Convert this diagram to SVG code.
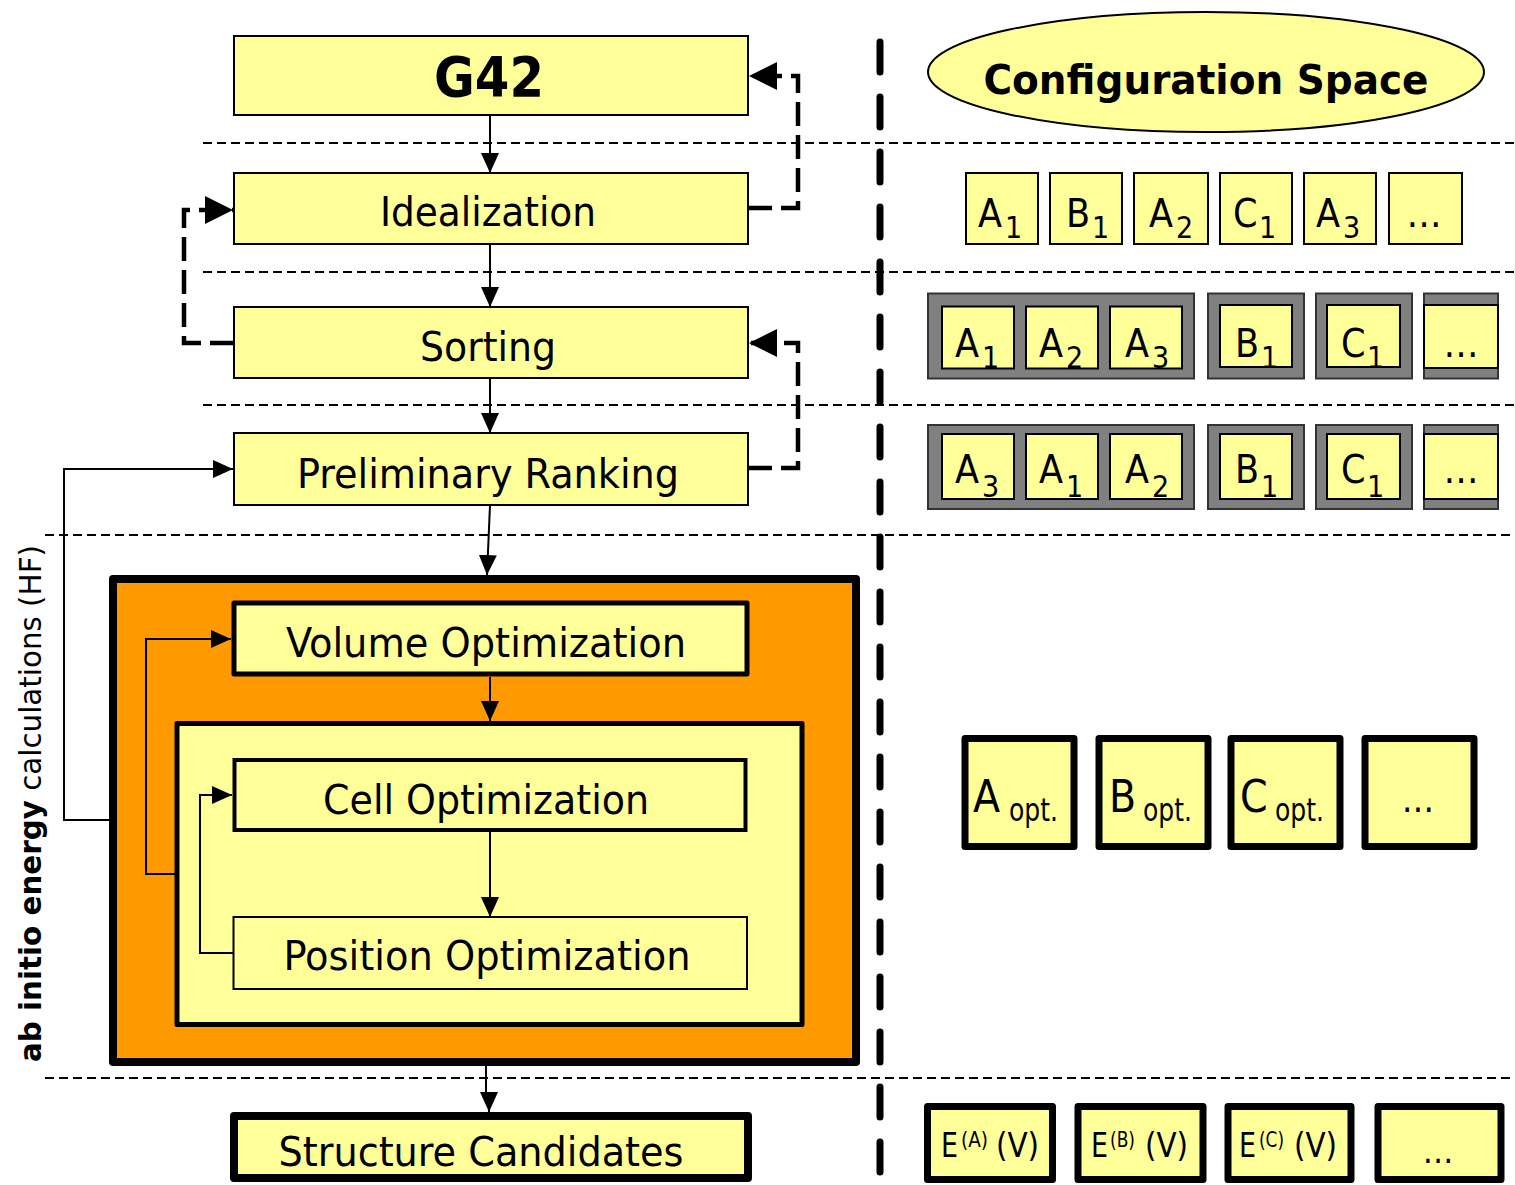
<svg xmlns="http://www.w3.org/2000/svg" width="1515" height="1185" viewBox="0 0 1515 1185">
  <style>
    .t{font-family:"DejaVu Sans Condensed","DejaVu Sans",sans-serif;fill:#000}
    .lbl{font-size:40px;text-anchor:middle}
    .box{fill:#FFFF99;stroke:#000;stroke-width:2}
    .w4{stroke-width:4}
    .w5{stroke-width:5;stroke-linejoin:round}
    .w8{stroke-width:8;stroke-linejoin:round}
    .heavy{fill:#FFFF99;stroke:#000;stroke-width:7;stroke-linejoin:round}
    .grp{fill:#808080;stroke:#333;stroke-width:2}
    .sep{stroke:#000;stroke-width:2;stroke-dasharray:9 5;fill:none}
    .divider{stroke:#000;stroke-width:7;stroke-dasharray:30 25;stroke-linecap:round;fill:none}
    .flow{stroke:#000;stroke-width:2;fill:none}
    .fb{stroke:#000;stroke-width:4.5;stroke-dasharray:24 9;fill:none}
    .big{font-size:39px}
    .sub{font-size:30px}
  </style>
  <defs>
    <marker id="ah" viewBox="0 0 20 18" refX="20" refY="9" markerWidth="20" markerHeight="18" markerUnits="userSpaceOnUse" orient="auto">
      <path d="M0,0L20,9L0,18z" fill="#000"/>
    </marker>
    <marker id="ahBig" viewBox="0 0 28 28" refX="28" refY="14" markerWidth="28" markerHeight="28" markerUnits="userSpaceOnUse" orient="auto">
      <path d="M0,0L28,14L0,28z" fill="#000"/>
    </marker>
  </defs>

  <!-- row separators -->
  <g id="separators">
    <path class="sep" d="M203,143H1515M203,272H1515M203,405H1515M45,535H1515M45,1078H1515"/>
    <path class="divider" d="M880,42V1185"/>
  </g>

  <!-- side caption -->
  <text class="t" transform="translate(41,1062) rotate(-90)" font-size="31" textLength="517" lengthAdjust="spacingAndGlyphs"><tspan font-weight="bold">ab initio energy</tspan> calculations  (HF)</text>

  <!-- left column: workflow steps -->
  <g id="g42">
    <rect class="box" x="234" y="36" width="514" height="79"/>
    <text class="t" x="489" y="96" font-size="55" font-weight="bold" text-anchor="middle" textLength="110" lengthAdjust="spacingAndGlyphs">G42</text>
  </g>
  <g id="idealization">
    <rect class="box" x="234" y="173" width="514" height="71"/>
    <text class="t lbl" x="488" y="226" textLength="216" lengthAdjust="spacingAndGlyphs">Idealization</text>
  </g>
  <g id="sorting">
    <rect class="box" x="234" y="307" width="514" height="71"/>
    <text class="t lbl" x="488" y="361" textLength="136" lengthAdjust="spacingAndGlyphs">Sorting</text>
  </g>
  <g id="ranking">
    <rect class="box" x="234" y="433" width="514" height="72"/>
    <text class="t lbl" x="488" y="488" textLength="382" lengthAdjust="spacingAndGlyphs">Preliminary Ranking</text>
  </g>
  <g id="abinitio">
    <rect x="113" y="579" width="743" height="483" fill="#FF9900" stroke="#000" stroke-width="8" stroke-linejoin="round"/>
  </g>
  <g id="volume">
    <rect class="box w5" x="234" y="603" width="513" height="71"/>
    <text class="t lbl" x="486" y="657" textLength="400" lengthAdjust="spacingAndGlyphs">Volume Optimization</text>
  </g>
  <g id="relaxation">
    <rect class="box w5" x="177" y="723.5" width="625" height="301"/>
  </g>
  <g id="cell">
    <rect class="box w4" x="234.5" y="760" width="511" height="70"/>
    <text class="t lbl" x="486" y="814" textLength="326" lengthAdjust="spacingAndGlyphs">Cell Optimization</text>
  </g>
  <g id="position">
    <rect class="box" x="233.5" y="917" width="513.5" height="72"/>
    <text class="t lbl" x="487" y="970" textLength="407" lengthAdjust="spacingAndGlyphs">Position Optimization</text>
  </g>
  <g id="candidates">
    <rect class="box w8" x="234" y="1116" width="514" height="62"/>
    <text class="t lbl" x="481" y="1166" textLength="405" lengthAdjust="spacingAndGlyphs">Structure Candidates</text>
  </g>

  <!-- connectors -->
  <g id="connectors">
    <path class="flow" d="M490,115V173" marker-end="url(#ah)"/>
    <path class="flow" d="M490,244V307" marker-end="url(#ah)"/>
    <path class="flow" d="M490,378V433" marker-end="url(#ah)"/>
    <path class="flow" d="M490,505L487,575" marker-end="url(#ah)"/>
    <path class="flow" d="M490,677V721" marker-end="url(#ah)"/>
    <path class="flow" d="M490,832V917" marker-end="url(#ah)"/>
    <path class="flow" d="M486,1066V1093H489V1112" marker-end="url(#ah)"/>
    <path class="flow" d="M109,820H64V469H233" marker-end="url(#ah)"/>
    <path class="flow" d="M175,874H146V639H231" marker-end="url(#ah)"/>
    <path class="flow" d="M233,953H200V795H232" marker-end="url(#ah)"/>
    <path class="fb" d="M748,208H798V76H749" marker-end="url(#ahBig)"/>
    <path class="fb" d="M234,343H184V210H233" marker-end="url(#ahBig)"/>
    <path class="fb" d="M748,468H798V343H749" marker-end="url(#ahBig)"/>
  </g>

  <!-- right column: configuration space -->
  <g id="config-title">
    <ellipse cx="1206" cy="72" rx="278" ry="60" fill="#FFFF99" stroke="#000" stroke-width="2"/>
    <text class="t" x="1206" y="94" font-size="40" font-weight="bold" text-anchor="middle" textLength="445" lengthAdjust="spacingAndGlyphs">Configuration Space</text>
  </g>

  <g id="generated">
    <rect class="box" x="966" y="173" width="72" height="71"/>
    <rect class="box" x="1050" y="173" width="72" height="71"/>
    <rect class="box" x="1134" y="173" width="74" height="71"/>
    <rect class="box" x="1220" y="173" width="72" height="71"/>
    <rect class="box" x="1304" y="173" width="72" height="71"/>
    <rect class="box" x="1389" y="173" width="73" height="71"/>
    <text class="t big" x="978" y="227">A</text><text class="t sub" x="1005" y="238">1</text>
    <text class="t big" x="1066" y="227">B</text><text class="t sub" x="1092" y="238">1</text>
    <text class="t big" x="1149" y="227">A</text><text class="t sub" x="1176" y="238">2</text>
    <text class="t big" x="1233" y="227">C</text><text class="t sub" x="1259" y="238">1</text>
    <text class="t big" x="1316" y="227">A</text><text class="t sub" x="1343" y="238">3</text>
    <text class="t big" x="1424" y="227" text-anchor="middle">…</text>
  </g>

  <g id="sorted">
    <rect class="grp" x="928" y="293.5" width="266" height="85"/>
    <rect class="grp" x="1208" y="293.5" width="96" height="85"/>
    <rect class="grp" x="1316" y="293.5" width="96" height="85"/>
    <rect class="grp" x="1424" y="293.5" width="74" height="85"/>
    <rect class="box" x="942" y="306.5" width="72" height="62"/>
    <rect class="box" x="1026" y="306.5" width="72" height="62"/>
    <rect class="box" x="1110" y="306.5" width="72" height="62"/>
    <rect class="box" x="1220" y="305" width="72" height="62"/>
    <rect class="box" x="1327" y="305" width="73" height="62"/>
    <rect class="box" x="1424" y="305" width="74" height="63"/>
    <text class="t big" x="955" y="357">A</text><text class="t sub" x="982" y="368">1</text>
    <text class="t big" x="1039" y="357">A</text><text class="t sub" x="1066" y="368">2</text>
    <text class="t big" x="1125" y="357">A</text><text class="t sub" x="1152" y="368">3</text>
    <text class="t big" x="1235" y="357">B</text><text class="t sub" x="1261" y="368">1</text>
    <text class="t big" x="1341" y="357">C</text><text class="t sub" x="1367" y="368">1</text>
    <text class="t big" x="1461" y="357" text-anchor="middle">…</text>
  </g>

  <g id="ranked">
    <rect class="grp" x="928" y="425" width="266" height="84"/>
    <rect class="grp" x="1208" y="425" width="96" height="84"/>
    <rect class="grp" x="1316" y="425" width="96" height="84"/>
    <rect class="grp" x="1424" y="425" width="74" height="84"/>
    <rect class="box" x="942" y="434" width="72" height="65"/>
    <rect class="box" x="1026" y="434" width="72" height="65"/>
    <rect class="box" x="1110" y="434" width="72" height="65"/>
    <rect class="box" x="1220" y="434" width="72" height="65"/>
    <rect class="box" x="1327" y="434" width="73" height="65"/>
    <rect class="box" x="1424" y="434" width="74" height="65"/>
    <text class="t big" x="955" y="483">A</text><text class="t sub" x="982" y="497">3</text>
    <text class="t big" x="1039" y="483">A</text><text class="t sub" x="1066" y="497">1</text>
    <text class="t big" x="1125" y="483">A</text><text class="t sub" x="1152" y="497">2</text>
    <text class="t big" x="1235" y="483">B</text><text class="t sub" x="1261" y="497">1</text>
    <text class="t big" x="1341" y="483">C</text><text class="t sub" x="1367" y="497">1</text>
    <text class="t big" x="1461" y="483" text-anchor="middle">…</text>
  </g>

  <g id="optimized">
    <rect class="heavy" x="965" y="738.5" width="109" height="108"/>
    <rect class="heavy" x="1099" y="738.5" width="109" height="108"/>
    <rect class="heavy" x="1231" y="738.5" width="109" height="108"/>
    <rect class="heavy" x="1365" y="738.5" width="109" height="108"/>
    <text class="t" x="973" y="812" font-size="44">A</text>
    <text class="t" x="1009" y="821" font-size="32" textLength="49" lengthAdjust="spacingAndGlyphs">opt.</text>
    <text class="t" x="1109" y="812" font-size="44">B</text>
    <text class="t" x="1143" y="821" font-size="32" textLength="49" lengthAdjust="spacingAndGlyphs">opt.</text>
    <text class="t" x="1240" y="812" font-size="44">C</text>
    <text class="t" x="1275" y="821" font-size="32" textLength="49" lengthAdjust="spacingAndGlyphs">opt.</text>
    <text class="t" x="1418" y="812" font-size="36" text-anchor="middle">…</text>
  </g>

  <g id="energies">
    <rect class="heavy" x="927.5" y="1106.5" width="125" height="73"/>
    <rect class="heavy" x="1078" y="1106.5" width="125" height="73"/>
    <rect class="heavy" x="1228" y="1106.5" width="123" height="73"/>
    <rect class="heavy" x="1378" y="1106.5" width="123" height="73"/>
    <text class="t" x="941" y="1157" font-size="33" textLength="17" lengthAdjust="spacingAndGlyphs">E</text>
    <text class="t" x="961" y="1147" font-size="22" textLength="27" lengthAdjust="spacingAndGlyphs">(A)</text>
    <text class="t" x="996" y="1157" font-size="33" textLength="43" lengthAdjust="spacingAndGlyphs">(V)</text>
    <text class="t" x="1091" y="1157" font-size="33" textLength="17" lengthAdjust="spacingAndGlyphs">E</text>
    <text class="t" x="1110" y="1147" font-size="22" textLength="25" lengthAdjust="spacingAndGlyphs">(B)</text>
    <text class="t" x="1145" y="1157" font-size="33" textLength="43" lengthAdjust="spacingAndGlyphs">(V)</text>
    <text class="t" x="1239" y="1157" font-size="33" textLength="17" lengthAdjust="spacingAndGlyphs">E</text>
    <text class="t" x="1259" y="1147" font-size="22" textLength="25" lengthAdjust="spacingAndGlyphs">(C)</text>
    <text class="t" x="1294" y="1157" font-size="33" textLength="43" lengthAdjust="spacingAndGlyphs">(V)</text>
    <text class="t" x="1438" y="1163" font-size="34" text-anchor="middle">…</text>
  </g>
</svg>
